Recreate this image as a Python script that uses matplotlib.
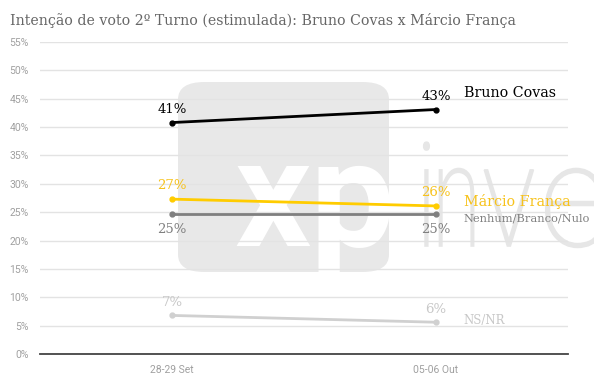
import matplotlib
matplotlib.use("Agg")
import matplotlib.pyplot as plt
import matplotlib.transforms as mtransforms
from matplotlib.patches import FancyBboxPatch, PathPatch
from matplotlib.textpath import TextPath
from matplotlib.font_manager import FontProperties

# DATA
periods = ["28-29 Set", "05-06 Out"]
bruno = [40.8, 43.1]
marcio = [27.3, 26.1]
nenhum = [24.6, 24.6]
nsnr = [6.8, 5.6]
yticks = [0, 5, 10, 15, 20, 25, 30, 35, 40, 45, 50, 55]

serif = ["DejaVu Serif"]
sans = ["Roboto", "DejaVu Sans"]

fig = plt.figure(figsize=(5.94, 3.87), dpi=100)
ax = fig.add_axes([40 / 594, 33 / 387, 528 / 594, 312 / 387])
ax.set_facecolor("none")
ax.set_zorder(2)

# watermark (xp logo), behind the chart
W, H = 594.0, 387.0
box = FancyBboxPatch((178 / W, (387 - 272) / H), 211 / W, 190 / H,
                     boxstyle="round,pad=0,rounding_size=0.045",
                     transform=fig.transFigure, facecolor="#e8e8e8",
                     edgecolor="none", zorder=0)
fig.patches.append(box)
t = fig.text(234 / W, (387 - 246) / H, "xp", fontsize=108, fontweight="bold",
             color="white", family=sans, zorder=0.5, va="baseline")
t.set_clip_path(box)
# narrow "inve" letters, drawn as paths in pixel coordinates
fp = FontProperties(family="Roboto", weight="light")
for ch, px, sx in [("i", 416, 0.7), ("n", 432, 0.62), ("v", 482, 0.78), ("e", 540, 0.95)]:
    tp = TextPath((0, 0), ch, size=144, prop=fp)
    tr = mtransforms.Affine2D().scale(sx, 1.0).translate(px, 387 - 246)
    fig.add_artist(PathPatch(tp, transform=tr, facecolor="#e6e6e6",
                             edgecolor="#e6e6e6", linewidth=1.2, zorder=0.5))

ax.set_xlim(-0.5, 1.5)
ax.set_ylim(0, 55)
ax.set_yticks(yticks)
ax.set_yticklabels([f"{v}%" for v in yticks])
ax.set_xticks(range(len(periods)))
ax.set_xticklabels(periods)
ax.grid(axis="y", color="#e3e3e3", linewidth=1)
ax.set_axisbelow(True)
for s in ["top", "right", "left"]:
    ax.spines[s].set_visible(False)
ax.spines["bottom"].set_color("#444444")
ax.spines["bottom"].set_linewidth(1.3)
ax.tick_params(length=0, colors="#a0a0a0", labelsize=7.5)
ax.tick_params(axis="y", pad=8)
ax.tick_params(axis="x", pad=8)
for lb in ax.get_xticklabels() + ax.get_yticklabels():
    lb.set_family(sans)

x = list(range(len(periods)))
# values, line colour, text colour, label offsets (pt) per point, name, name size, name offset
series = [
    (bruno, "#000000", "#000000", [9.5, 9.5], "Bruno Covas", 10.3, 12),
    (marcio, "#ffcc00", "#f7c21b", [9.5, 10], "Márcio França", 10.3, 3.5),
    (nenhum, "#7f7f7f", "#808080", [-11, -11], "Nenhum/Branco/Nulo", 8.2, -3),
    (nsnr, "#d0d0d0", "#c8c8c8", [9.5, 9.5], "NS/NR", 8.5, 1.5),
]
for vals, lc, tc, offs, name, nsize, noff in series:
    ax.plot(x, vals, color=lc, linewidth=2.0, marker="o", markersize=3.5, zorder=3)
    for xi, v, off in zip(x, vals, offs):
        ax.annotate(f"{round(v):.0f}%", (xi, v), xytext=(0, off),
                    textcoords="offset points", ha="center", va="center",
                    color=tc, fontsize=9.5, family=serif)
    ax.annotate(name, (x[-1], vals[-1]), xytext=(20, noff),
                textcoords="offset points", ha="left", va="center",
                color=tc, fontsize=nsize, family=serif, annotation_clip=False)

fig.text(10 / W, 1 - 20 / H, "Intenção de voto 2º Turno (estimulada): Bruno Covas x Márcio França",
         fontsize=10.2, color="#666666", family=serif, va="center", ha="left")

fig.savefig("out.png", dpi=100)
